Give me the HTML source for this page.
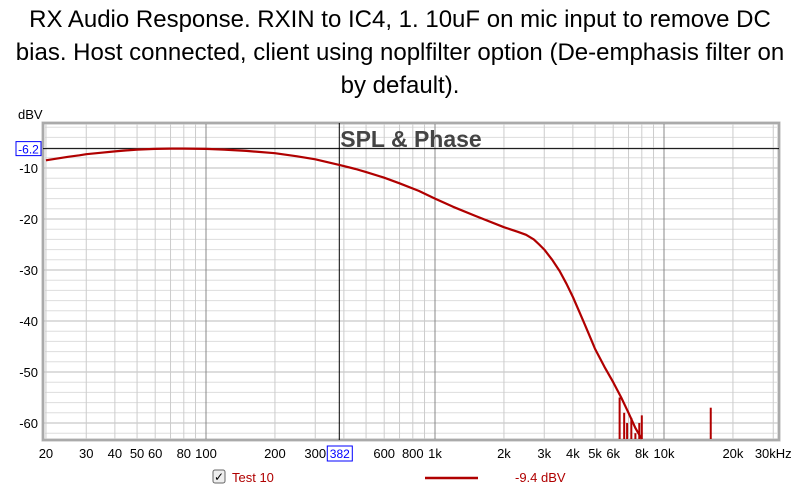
<!DOCTYPE html>
<html><head><meta charset="utf-8"><style>
body{margin:0;width:800px;height:492px;background:#fff;font-family:"Liberation Sans",Arial,sans-serif;overflow:hidden}
.title{position:absolute;left:0;top:3px;width:800px;text-align:center;font-size:24px;line-height:33px;color:#000;white-space:nowrap}
</style></head><body>
<div class="title">RX Audio Response. RXIN to IC4, 1. 10uF on mic input to remove DC<br>bias. Host connected, client using noplfilter option (De-emphasis filter on<br>by default).</div>
<svg id="chart" width="800" height="492" style="position:absolute;left:0;top:0"></svg>
<script>
const xTicks=[20,30,40,50,60,80,100,200,300,400,600,800,1000,2000,3000,4000,5000,6000,8000,10000,20000,30000];
const xTickLabels=["20","30","40","50","60","80","100","200","300","","600","800","1k","2k","3k","4k","5k","6k","8k","10k","20k","30kHz"];
const yTicks=[-10,-20,-30,-40,-50,-60];
const freqs=[20,22,25,28,30,35,40,45,50,60,70,80,100,120,150,200,250,300,382,450,500,600,700,850,1000,1200,1500,2000,2300,2500,2700,2850,3000,3250,3500,3750,4000,4250,4500,4750,5000,5500,6000,6500,7000,7500,8000];
const levels=[-8.5,-8.2,-7.8,-7.5,-7.3,-7.0,-6.75,-6.55,-6.4,-6.25,-6.2,-6.2,-6.25,-6.4,-6.65,-7.1,-7.7,-8.3,-9.4,-10.2,-10.8,-11.9,-13,-14.5,-16,-17.6,-19.4,-21.6,-22.5,-23.1,-24,-25,-26,-28,-30.2,-32.7,-35.3,-38,-40.6,-43.1,-45.5,-49,-52,-55,-58,-61,-63.5];
const spikeFreqs=[6400,6700,6900,7200,7500,7800,8000,16000];
const spikeLevels=[-55,-58,-60,-59,-62,-60,-58.5,-57];
const cursorFreq=382, cursorLevel=-6.2;
const L=43,R=779,T=123,B=440;
const fx=f=>206+229*Math.log10(f/100);
const fy=d=>168-(d+10)*5.1;
const NS="http://www.w3.org/2000/svg";
const svg=document.getElementById('chart');
function mk(t,a){const e=document.createElementNS(NS,t);for(const k in a)e.setAttribute(k,a[k]);svg.appendChild(e);return e;}
let e=mk('rect',{x:L,y:T,width:R-L,height:B-T,fill:'#fff',stroke:'#bbb','stroke-width':3});


for(let d=-62;d<=-2;d+=2){const y=fy(d);if(y<T||y>B)continue;
 e=mk('line',{x1:L,x2:R,y1:y,y2:y,stroke:d%10===0?'#bbb':'#ddd','stroke-width':1});
 
 }
for(let dec=10;dec<=10000;dec*=10)for(let m=1;m<10;m++){const f=dec*m;if(f<20||f>32000)continue;const x=fx(f);
 e=mk('line',{x1:x,x2:x,y1:T,y2:B,stroke:m===1?'#888':'#ccc','stroke-width':1});
 
 }
mk('rect',{x:L,y:T,width:R-L,height:B-T,fill:'none',stroke:'#aaa','stroke-width':2});
e=mk('text',{x:411,y:147,'text-anchor':'middle','font-size':23,'font-weight':'bold',fill:'#444','font-family':'Liberation Sans'});e.textContent='SPL & Phase';


yTicks.forEach(v=>{e=mk('text',{x:38,y:fy(v)+5,'text-anchor':'end','font-size':13,fill:'#000'});e.textContent=String(v);
 
 });
e=mk('text',{x:18,y:119,'font-size':13});e.textContent='dBV';


xTicks.forEach((f,i)=>{e=mk('text',{x:fx(f),y:458,'text-anchor':'middle','font-size':13});e.textContent=xTickLabels[i];
 
 });
const cx=fx(cursorFreq),cy=fy(cursorLevel);
e=mk('line',{x1:cx,x2:cx,y1:T,y2:B,stroke:'#000','stroke-width':1});


e=mk('line',{x1:L,x2:R,y1:cy,y2:cy,stroke:'#000','stroke-width':1});


const clipB=v=>Math.min(fy(v),B-1);
let pts=freqs.map((f,i)=>fx(f).toFixed(1)+','+clipB(levels[i]).toFixed(1)).join(' ');
e=mk('polyline',{points:pts,fill:'none',stroke:'#b00000','stroke-width':2.2,'stroke-linejoin':'round'});


spikeFreqs.forEach((f,i)=>{e=mk('line',{x1:fx(f),x2:fx(f),y1:fy(spikeLevels[i]),y2:B-1,stroke:'#b00000','stroke-width':2});
 
 });
e=mk('rect',{x:16,y:cy-7,width:25,height:14,fill:'#fff',stroke:'#00f'});


e=mk('text',{x:28.5,y:cy+5,'text-anchor':'middle','font-size':12,fill:'#00f'});e.textContent=String(cursorLevel);


e=mk('rect',{x:cx-12,y:446,width:25,height:15,fill:'#fff',stroke:'#00f'});


e=mk('text',{x:cx+0.5,y:458,'text-anchor':'middle','font-size':12,fill:'#00f'});e.textContent=String(cursorFreq);


e=mk('rect',{x:213,y:470,width:12,height:13,fill:'#eee',stroke:'#666',rx:2});


e=mk('text',{x:214,y:481,'font-size':12,fill:'#000'});e.textContent='✓';
e=mk('text',{x:232,y:482,'font-size':13,fill:'#b00000'});e.textContent='Test 10';


e=mk('line',{x1:425,x2:478,y1:478,y2:478,stroke:'#b00000','stroke-width':2.5});


e=mk('text',{x:515,y:482,'font-size':13,fill:'#b00000'});e.textContent='-9.4 dBV';


</script>
</body></html>
